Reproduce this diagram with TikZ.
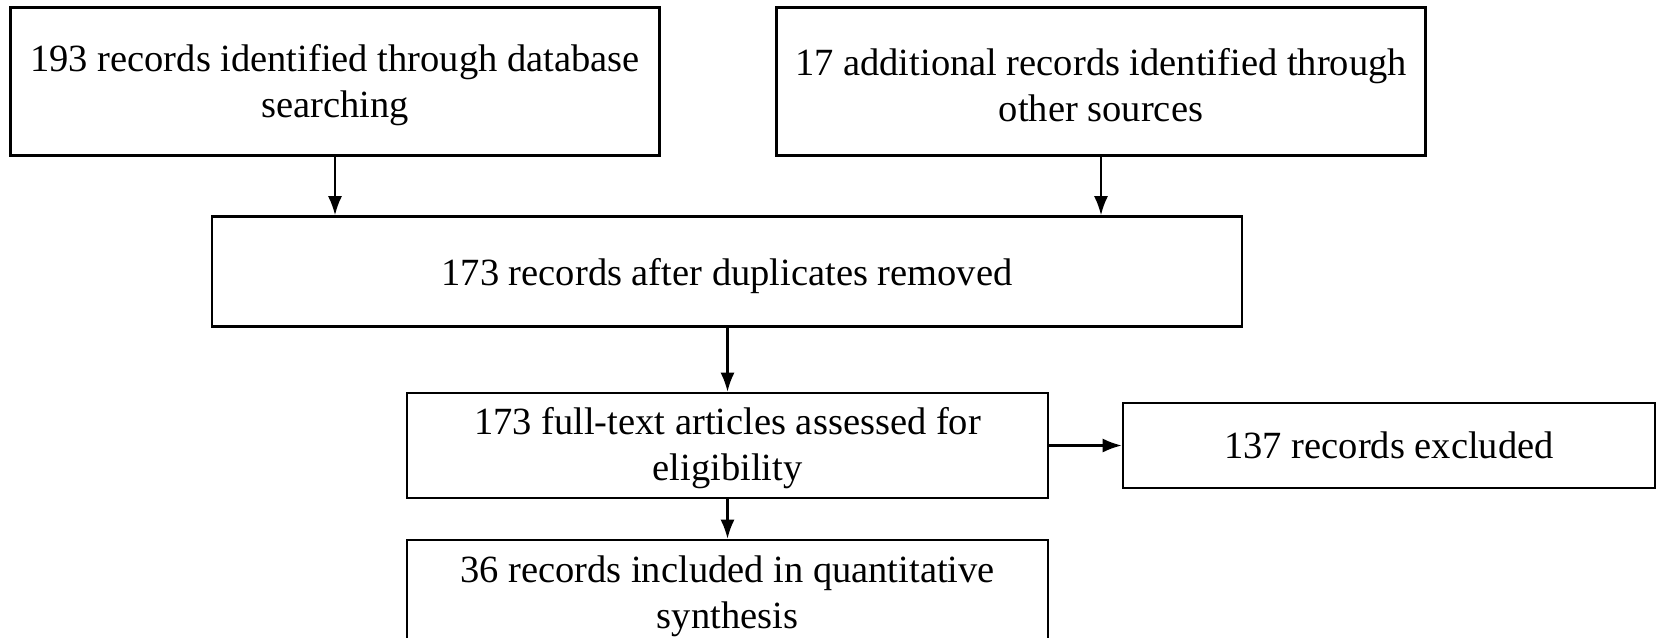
\documentclass[tikz,border=0pt]{standalone}
\usepackage{fontspec}
\setmainfont{Liberation Serif}
\usetikzlibrary{arrows.meta}
\begin{document}
\begin{tikzpicture}[x=1pt,y=-1pt,
  box/.style={draw=black,line width=2.6pt,fill=white,inner sep=0pt},
  label/.style={inner sep=0pt,align=center,font=\fontsize{38.5}{46}\selectfont},
  arr/.style={draw=black,line width=2.1pt,-{Latex[length=19pt,width=14pt]}}]
  \useasboundingbox (0,0) rectangle (1656,637);
  \clip (0,0) rectangle (1656,637);
  % identification
  \node[box,minimum width=649pt,minimum height=148pt] (b1) at (335,81.5) {};
  \node[label] (b1t) at (335,85) {193 records identified through database\\searching};
  \node[box,minimum width=649pt,minimum height=148pt] (b2) at (1101,81.5) {};
  \node[label] (b2t) at (1101,85) {17 additional records identified through\\other sources};
  % screening
  \node[box,minimum width=1030pt,minimum height=110pt] (b3) at (727,271.5) {};
  \node[label] (b3t) at (727,276.5) {173 records after duplicates removed};
  % eligibility
  \node[box,minimum width=641pt,minimum height=105pt] (b4) at (727.5,445.5) {};
  \node[label] (b4t) at (727.5,448.5) {173 full-text articles assessed for\\eligibility};
  \node[box,minimum width=532pt,minimum height=85pt] (b5) at (1389,445.5) {};
  \node[label] (b5t) at (1389,445.5) {137 records excluded};
  % included (box runs past the lower edge)
  \node[box,minimum width=641pt,minimum height=170pt] (b6) at (727.5,625) {};
  \node[label] (b6t) at (727.5,596) {36 records included in quantitative\\synthesis};
  % connectors
  \draw[arr] (b1.south) -- (b1.south |- b3.north);
  \draw[arr] (b2.south) -- (b2.south |- b3.north);
  \draw[arr] (b3.south -| b4.north) -- (b4.north);
  \draw[arr] (b4.east) -- (b5.west);
  \draw[arr] (b4.south) -- (b6.north);
\end{tikzpicture}
\end{document}
